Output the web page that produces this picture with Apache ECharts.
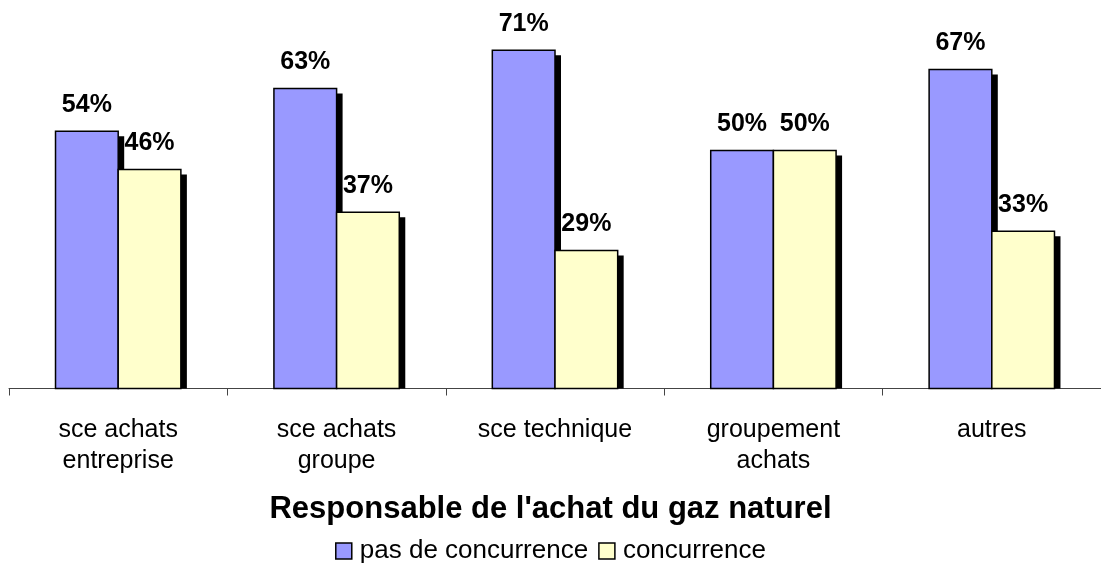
<!DOCTYPE html>
<html>
<head>
<meta charset="utf-8">
<script src="https://cdn.jsdelivr.net/npm/echarts@6/dist/echarts.min.js"></script>
<style>
  html, body { margin: 0; padding: 0; background: #fff; }
  #chart { width: 1101px; height: 569px; }
</style>
</head>
<body>
<div id="chart"></div>
<script>
// data
var categories = ['sce achats\nentreprise', 'sce achats\ngroupe', 'sce technique', 'groupement\nachats', 'autres'];
var pasConcurrence = [54, 63, 71, 50, 67];
var concurrence = [46, 37, 29, 50, 33];
var seriesNames = ['pas de concurrence', 'concurrence'];

var FONT = 'Liberation Sans, Arial';
var myChart = echarts.init(document.getElementById('chart'), null, { renderer: 'canvas' });

// bar with a hard black drop shadow and its value label on top
function renderBar(params, api) {
  var idx = api.value(0);
  var val = api.value(1);
  var top = api.coord([idx, val]);
  var base = api.coord([idx, 0]);
  var band = api.size([1, 0])[0];
  var w = band * 0.287;
  var x = params.seriesIndex === 0 ? top[0] - w : top[0];
  var h = base[1] - top[1];
  return {
    type: 'group',
    children: [
      {
        type: 'rect',
        shape: { x: x + 5, y: top[1] + 5, width: w + 1, height: h - 5 },
        style: { fill: '#000' }
      },
      {
        type: 'rect',
        shape: { x: x, y: top[1], width: w, height: h },
        style: { fill: api.visual('color'), stroke: '#000', lineWidth: 1.5 }
      },
      {
        type: 'text',
        z2: 10,
        style: {
          text: val + '%',
          x: x + w / 2,
          y: top[1] - 14,
          align: 'center',
          verticalAlign: 'bottom',
          fontFamily: FONT,
          fontWeight: 'bold',
          fontSize: 25,
          fill: '#000'
        }
      }
    ]
  };
}

function toPairs(arr) {
  return arr.map(function (v, i) { return [i, v]; });
}

var option = {
  animation: false,
  title: {
    text: "Responsable de l'achat du gaz naturel",
    left: 'center',
    top: 494,
    padding: 0,
    textStyle: { fontFamily: FONT, fontWeight: 'bold', fontSize: 31, color: '#000' }
  },
  legend: {
    data: seriesNames,
    top: 538,
    left: 'center',
    padding: 0,
    itemWidth: 16,
    itemHeight: 16,
    itemGap: 10,
    icon: 'rect',
    textStyle: { fontFamily: FONT, fontSize: 26, color: '#000', padding: [0, 0, 0, 3] },
    itemStyle: { borderColor: '#000', borderWidth: 1.5 }
  },
  grid: { left: 9, top: 7.5, width: 1097, height: 381, containLabel: false },
  xAxis: {
    type: 'category',
    data: categories,
    axisLine: { lineStyle: { color: '#444', width: 1 } },
    axisTick: { show: true, length: 7, lineStyle: { color: '#444' } },
    axisLabel: {
      interval: 0,
      margin: 26,
      fontFamily: FONT,
      fontSize: 25,
      lineHeight: 31,
      color: '#000'
    }
  },
  yAxis: {
    type: 'value',
    min: 0,
    max: 80,
    show: false,
    splitLine: { show: false }
  },
  series: [
    {
      name: seriesNames[0],
      type: 'custom',
      data: toPairs(pasConcurrence),
      encode: { x: 0, y: 1 },
      itemStyle: { color: '#9999FF' },
      renderItem: renderBar
    },
    {
      name: seriesNames[1],
      type: 'custom',
      data: toPairs(concurrence),
      encode: { x: 0, y: 1 },
      itemStyle: { color: '#FFFFCC' },
      renderItem: renderBar
    }
  ]
};

myChart.setOption(option);
window.addEventListener('resize', myChart.resize);
</script>
</body>
</html>
